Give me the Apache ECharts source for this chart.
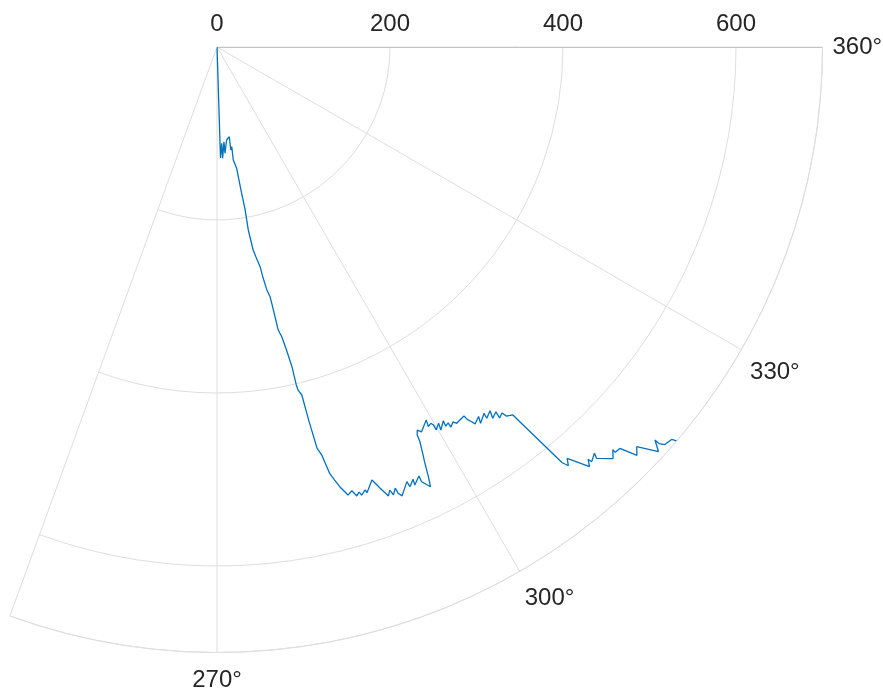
<!DOCTYPE html>
<html>
<head>
<meta charset="utf-8">
<script src="https://cdn.jsdelivr.net/npm/echarts@6/dist/echarts.min.js"></script>
<style>
html,body{margin:0;padding:0;background:#ffffff;}
#chart{width:883px;height:688px;}
</style>
</head>
<body>
<div id="chart"></div>
<script>
// ---- data (theta in degrees, r in data units) ----
const thetaDeg = [271, 271.8, 272.8, 272.9, 274.2, 274.3, 275.9, 277.8, 277.6, 278.4, 278.2, 279.2, 279.5, 279.8, 279.7, 280.1, 280.5, 281.1, 281.3, 281.6, 282.0, 282.1, 282.2, 282.6, 282.9, 283.2, 283.2, 283.3, 283.7, 283.8, 284.0, 284.4, 284.8, 285.2, 285.6, 286.3, 286.9, 287.3, 287.7, 287.9, 288.5, 288.6, 289.7, 290.3, 290.9, 291.3, 291.5, 292.0, 292.1, 292.4, 293.6, 293.7, 294.4, 294.3, 295.2, 295.2, 295.9, 296.2, 296.6, 296.8, 297.2, 297.3, 297.6, 298.0, 299.3, 299.1, 299.6, 299.8, 299.8, 300.5, 300.3, 301.2, 301.1, 301.6, 301.6, 302.2, 302.5, 303.2, 303.8, 303.9, 304.2, 304.4, 305.3, 305.0, 306.1, 306.0, 306.9, 306.6, 307.4, 307.3, 307.9, 308.1, 308.8, 309.7, 310.0, 310.4, 311.6, 312.0, 312.1, 312.9, 312.7, 313.9, 314.5, 314.5, 315.1, 315.8, 316.4, 317.5, 318.1, 318.1, 318.4, 319.2, 319.4];
const rValues = [0, 128.4, 111.5, 128.8, 109.8, 123.2, 108.1, 104.7, 120.1, 116.5, 132.0, 142.1, 167.6, 191.2, 214.6, 238.4, 246.6, 258.8, 272.7, 286.7, 295.1, 310.9, 334.8, 343.2, 358.1, 379.6, 401.3, 407.5, 414.1, 443.9, 478.0, 487.0, 509.9, 518.8, 527.8, 539.7, 536.2, 543.6, 540.1, 544.3, 540.0, 543.6, 531.6, 543.8, 555.6, 549.8, 556.6, 550.1, 556.9, 561.3, 548.3, 555.1, 548.6, 555.7, 548.2, 555.5, 565.2, 553.5, 535.5, 528.5, 513.4, 504.6, 499.7, 503.8, 494.3, 502.3, 500.3, 503.5, 510.0, 504.7, 512.8, 505.1, 511.9, 510.1, 516.0, 512.1, 515.8, 514.4, 513.3, 518.6, 523.8, 528.1, 523.4, 531.2, 524.0, 530.5, 525.8, 534.7, 530.9, 539.2, 536.3, 542.3, 545.8, 624.3, 631.9, 624.6, 648.6, 641.2, 646.1, 641.0, 647.1, 660.3, 652.9, 657.0, 657.5, 677.2, 670.0, 692.2, 680.3, 686.6, 692.2, 694.3, 699.7];

// axis limits / ticks
const thetaLimits = [250, 360];
const thetaTickStart = 270;
const thetaTickStep = 30;
const rLimits = [0, 700];
const rTickStep = 200;

const FONT = "'Liberation Sans', Arial, Helvetica, sans-serif";
const TEXT = '#262626';
const GRID = '#dedede';
const RAXIS = '#c4c4c4';
const CENTER = [217, 47];
const RADIUS = 605.5;

const lineData = thetaDeg.map((t, i) => [rValues[i], t]);

const option = {
  animation: false,
  backgroundColor: '#ffffff',
  polar: [
    { center: CENTER, radius: RADIUS },
    { center: CENTER, radius: RADIUS },
    { center: CENTER, radius: RADIUS }
  ],
  angleAxis: [
    { // frame: outer arc
      polarIndex: 0, type: 'value', min: thetaLimits[0], max: thetaLimits[1],
      startAngle: thetaLimits[0], endAngle: thetaLimits[1], clockwise: false,
      axisLine: { show: true, lineStyle: { color: GRID, width: 1 } },
      axisTick: { show: false }, axisLabel: { show: false },
      splitLine: { show: false }
    },
    { // spokes and angle labels
      polarIndex: 1, type: 'value', min: thetaTickStart, max: thetaLimits[1],
      interval: thetaTickStep,
      startAngle: thetaTickStart, endAngle: thetaLimits[1], clockwise: false,
      axisLine: { show: false }, axisTick: { show: false },
      axisLabel: { show: true, formatter: '{value}°', color: TEXT, fontSize: 24, fontFamily: FONT, margin: 10, padding: [6, 0, 0, 0] },
      splitLine: { show: true, lineStyle: { color: GRID, width: 1 } }
    },
    { // carrier for radial labels along 0°
      polarIndex: 2, type: 'value', min: 0, max: 1,
      startAngle: 0, endAngle: -110, clockwise: true, show: false
    }
  ],
  radiusAxis: [
    {
      polarIndex: 0, type: 'value', min: rLimits[0], max: rLimits[1], interval: rTickStep,
      axisLine: { show: true, lineStyle: { color: GRID, width: 1 } },
      axisTick: { show: false }, axisLabel: { show: false },
      splitLine: { show: true, lineStyle: { color: GRID, width: 1 } }
    },
    {
      polarIndex: 1, type: 'value', min: rLimits[0], max: rLimits[1], show: false
    },
    {
      polarIndex: 2, type: 'value', min: rLimits[0], max: rLimits[1], interval: rTickStep,
      axisLine: { show: true, lineStyle: { color: RAXIS, width: 1 } },
      axisTick: { show: false },
      axisLabel: { show: true, showMaxLabel: false, color: TEXT, fontSize: 24, fontFamily: FONT, margin: 11 },
      splitLine: { show: false }
    }
  ],
  series: [{
    type: 'line',
    coordinateSystem: 'polar',
    polarIndex: 0,
    data: lineData,
    showSymbol: false,
    symbol: 'none',
    lineStyle: { color: '#0072BD', width: 1.3 },
    z: 5
  }]
};

const chart = echarts.init(document.getElementById('chart'), null, { renderer: 'canvas' });
chart.setOption(option);
</script>
</body>
</html>
